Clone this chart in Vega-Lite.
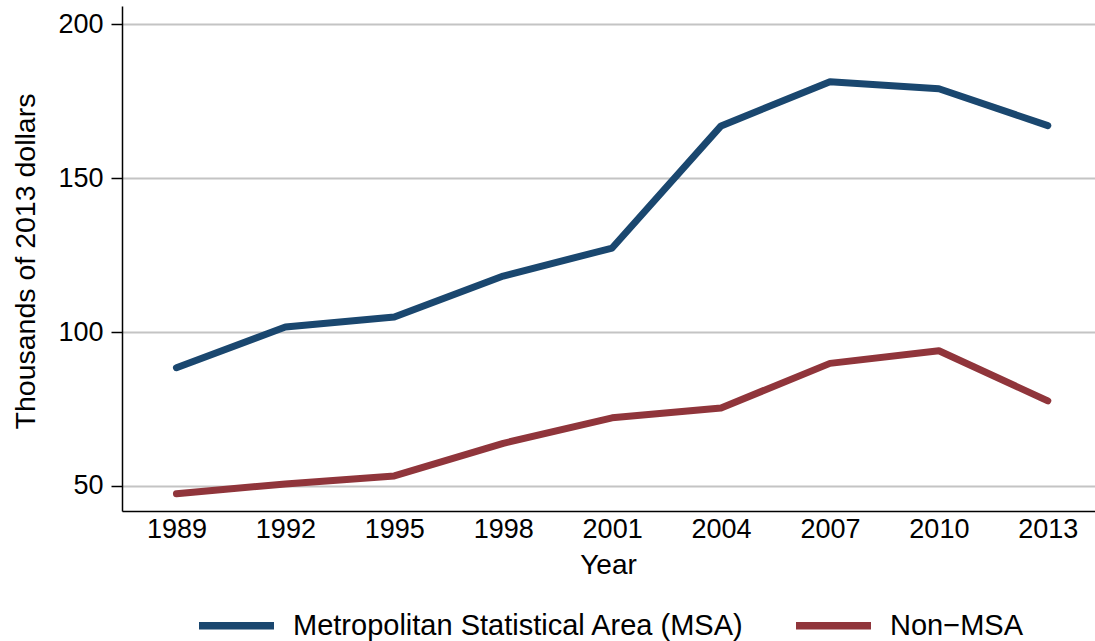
{
  "$schema": "https://vega.github.io/schema/vega-lite/v6.json",
  "width": 973,
  "height": 505,
  "autosize": {"type": "none"},
  "padding": {"left": 122, "top": 6, "right": 0, "bottom": 130},
  "background": "white",
  "config": {
    "view": {"stroke": null},
    "font": "Liberation Sans",
    "axis": {"labelFont": "Liberation Sans", "titleFont": "Liberation Sans", "labelColor": "black", "titleColor": "black", "titleFontWeight": "normal", "domainColor": "black", "domainWidth": 1.5},
    "legend": {"labelFont": "Liberation Sans"}
  },
  "data": {
    "values": [
      {"year": 1989, "series": "Metropolitan Statistical Area (MSA)", "value": 88.4},
      {"year": 1992, "series": "Metropolitan Statistical Area (MSA)", "value": 101.6},
      {"year": 1995, "series": "Metropolitan Statistical Area (MSA)", "value": 104.9},
      {"year": 1998, "series": "Metropolitan Statistical Area (MSA)", "value": 118.2},
      {"year": 2001, "series": "Metropolitan Statistical Area (MSA)", "value": 127.3},
      {"year": 2004, "series": "Metropolitan Statistical Area (MSA)", "value": 167.0},
      {"year": 2007, "series": "Metropolitan Statistical Area (MSA)", "value": 181.4},
      {"year": 2010, "series": "Metropolitan Statistical Area (MSA)", "value": 179.1},
      {"year": 2013, "series": "Metropolitan Statistical Area (MSA)", "value": 167.1},
      {"year": 1989, "series": "Non−MSA", "value": 47.4},
      {"year": 1992, "series": "Non−MSA", "value": 50.6},
      {"year": 1995, "series": "Non−MSA", "value": 53.2},
      {"year": 1998, "series": "Non−MSA", "value": 63.8},
      {"year": 2001, "series": "Non−MSA", "value": 72.1},
      {"year": 2004, "series": "Non−MSA", "value": 75.3},
      {"year": 2007, "series": "Non−MSA", "value": 89.8},
      {"year": 2010, "series": "Non−MSA", "value": 93.9},
      {"year": 2013, "series": "Non−MSA", "value": 77.6}
    ]
  },
  "mark": {"type": "line", "strokeWidth": 7, "strokeCap": "round", "strokeJoin": "round"},
  "encoding": {
    "x": {
      "field": "year", "type": "quantitative",
      "scale": {"domain": [1987.5, 2014.3], "nice": false, "zero": false},
      "axis": {
        "values": [1989, 1992, 1995, 1998, 2001, 2004, 2007, 2010, 2013],
        "format": "d", "title": "Year", "grid": false, "ticks": false,
        "labelFontSize": 27, "labelPadding": 5, "labelFlush": false,
        "domainColor": "black", "domainWidth": 1.5,
        "titleFontSize": 28, "titleBaseline": "alphabetic", "titleY": 62, "titleX": 486
      }
    },
    "y": {
      "field": "value", "type": "quantitative",
      "scale": {"domain": [41.8, 206], "nice": false, "zero": false},
      "axis": {
        "values": [50, 100, 150, 200],
        "title": "Thousands of 2013 dollars",
        "grid": true, "gridColor": "#c4c4c4", "gridWidth": 2,
        "ticks": true, "tickSize": 11, "tickColor": "black", "tickWidth": 1.5,
        "labelFontSize": 27, "labelPadding": 8,
        "domainColor": "black", "domainWidth": 1.5,
        "titleFontSize": 28.5, "titleAngle": -90, "titleBaseline": "middle", "titleAlign": "center",
        "titleX": -97, "titleY": 255
      }
    },
    "color": {
      "field": "series", "type": "nominal",
      "scale": {"domain": ["Metropolitan Statistical Area (MSA)", "Non−MSA"], "range": ["#1a476f", "#90353b"]},
      "legend": {
        "title": null, "orient": "none", "direction": "horizontal",
        "legendX": 73, "legendY": 578,
        "symbolType": "stroke", "symbolSize": 5625, "symbolStrokeWidth": 7.5,
        "labelFontSize": 29, "labelColor": "black", "labelOffset": 15,
        "columnPadding": 36, "labelLimit": 600
      }
    }
  }
}
